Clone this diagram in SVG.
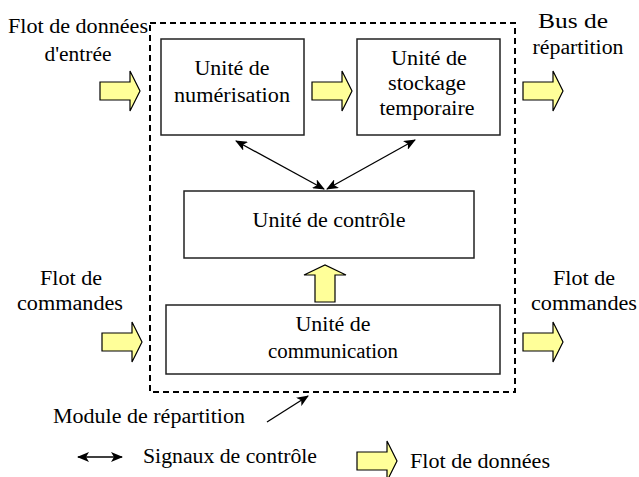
<svg xmlns="http://www.w3.org/2000/svg" xmlns:xlink="http://www.w3.org/1999/xlink" width="639" height="477" viewBox="0 0 639 477">
<style>
.box{fill:#fff;stroke:#222;stroke-width:1.5}
.flow{fill:#FFFF99;stroke:#000;stroke-width:1.2;stroke-linejoin:miter}
.sig{stroke:#000;stroke-width:1.3;fill:none}
</style>
<defs>
<path id="flowR" class="flow" d="M0,-9 H30 V-20 L40,0 L30,20 V9 H0 Z"/>
<marker id="ah" viewBox="0 0 12 10" refX="11" refY="5" markerWidth="12" markerHeight="10" markerUnits="userSpaceOnUse" orient="auto-start-reverse">
<path d="M0,0 L12,5 L0,10 L3,5 Z" fill="#000"/>
</marker>
</defs>
<rect width="639" height="477" fill="#fff"/>

<g id="module">
<rect x="150" y="23" width="365" height="369" fill="none" stroke="#000" stroke-width="2" stroke-dasharray="6,4"/>
</g>

<g id="numerisation" font-family="Liberation Serif" font-size="20">
<rect class="box" x="161" y="39" width="143" height="96"/>
<text font-family="Liberation Serif" x="232" y="75" text-anchor="middle" textLength="75" lengthAdjust="spacingAndGlyphs">Unité de</text>
<text font-family="Liberation Serif" x="232" y="102" text-anchor="middle" textLength="116" lengthAdjust="spacingAndGlyphs">numérisation</text>
</g>

<g id="stockage" font-family="Liberation Serif" font-size="20">
<rect class="box" x="357" y="39" width="143" height="96"/>
<text font-family="Liberation Serif" x="429" y="65" text-anchor="middle" textLength="76" lengthAdjust="spacingAndGlyphs">Unité de</text>
<text font-family="Liberation Serif" x="427" y="90" text-anchor="middle" textLength="78" lengthAdjust="spacingAndGlyphs">stockage</text>
<text font-family="Liberation Serif" x="427" y="115" text-anchor="middle" textLength="95" lengthAdjust="spacingAndGlyphs">temporaire</text>
</g>

<g id="controle" font-family="Liberation Serif" font-size="20">
<rect class="box" x="184" y="191" width="290" height="67"/>
<text font-family="Liberation Serif" x="329" y="227" text-anchor="middle" textLength="153" lengthAdjust="spacingAndGlyphs">Unité de contrôle</text>
</g>

<g id="communication" font-family="Liberation Serif" font-size="20">
<rect class="box" x="166" y="305" width="334" height="69"/>
<text font-family="Liberation Serif" x="333" y="331" text-anchor="middle" textLength="75" lengthAdjust="spacingAndGlyphs">Unité de</text>
<text font-family="Liberation Serif" x="333" y="358" text-anchor="middle" textLength="130" lengthAdjust="spacingAndGlyphs">communication</text>
</g>

<g id="labels" font-family="Liberation Serif" font-size="20">
<text font-family="Liberation Serif" x="78" y="33" text-anchor="middle" textLength="140" lengthAdjust="spacingAndGlyphs">Flot de données</text>
<text font-family="Liberation Serif" x="78" y="61" text-anchor="middle" textLength="67" lengthAdjust="spacingAndGlyphs">d'entrée</text>
<text font-family="Liberation Serif" x="573" y="28" text-anchor="middle" textLength="70" lengthAdjust="spacingAndGlyphs">Bus de</text>
<text font-family="Liberation Serif" x="578" y="54" text-anchor="middle" textLength="91" lengthAdjust="spacingAndGlyphs">répartition</text>
<text font-family="Liberation Serif" x="71" y="285" text-anchor="middle" textLength="62" lengthAdjust="spacingAndGlyphs">Flot de</text>
<text font-family="Liberation Serif" x="70" y="310" text-anchor="middle" textLength="106" lengthAdjust="spacingAndGlyphs">commandes</text>
<text font-family="Liberation Serif" x="584" y="285" text-anchor="middle" textLength="62" lengthAdjust="spacingAndGlyphs">Flot de</text>
<text font-family="Liberation Serif" x="584" y="310" text-anchor="middle" textLength="106" lengthAdjust="spacingAndGlyphs">commandes</text>
<text font-family="Liberation Serif" x="53" y="423" textLength="192" lengthAdjust="spacingAndGlyphs">Module de répartition</text>
</g>

<g id="connectors">
<use xlink:href="#flowR" x="100" y="91"/>
<use xlink:href="#flowR" x="312" y="91"/>
<use xlink:href="#flowR" x="523" y="91"/>
<use xlink:href="#flowR" x="102" y="342"/>
<use xlink:href="#flowR" x="523" y="342"/>
<path class="flow" d="M315,302 V275 H304 L325,265 L346,275 H335 V302 Z"/>
<line class="sig" x1="236" y1="141" x2="324" y2="189" marker-start="url(#ah)" marker-end="url(#ah)"/>
<line class="sig" x1="415" y1="140" x2="327" y2="189" marker-start="url(#ah)" marker-end="url(#ah)"/>
<line class="sig" x1="267" y1="422" x2="308" y2="396" marker-end="url(#ah)"/>
</g>

<g id="legend" font-family="Liberation Serif" font-size="20">
<line class="sig" x1="78" y1="457" x2="122" y2="457" marker-start="url(#ah)" marker-end="url(#ah)"/>
<text font-family="Liberation Serif" x="143" y="463" textLength="174" lengthAdjust="spacingAndGlyphs">Signaux de contrôle</text>
<use xlink:href="#flowR" x="357" y="461"/>
<text font-family="Liberation Serif" x="410" y="468" textLength="140" lengthAdjust="spacingAndGlyphs">Flot de données</text>
</g>
</svg>
